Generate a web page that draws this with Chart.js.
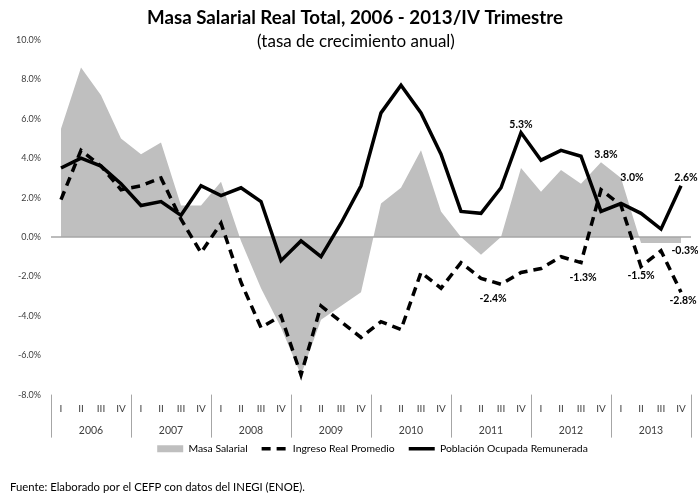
<!DOCTYPE html>
<html>
<head>
<meta charset="utf-8">
<script src="https://cdn.jsdelivr.net/npm/chart.js@4.4.0/dist/chart.umd.min.js"></script>
<style>
  html, body { margin: 0; padding: 0; background: #fff; }
</style>
</head>
<body>
<canvas id="chart" width="698" height="496"></canvas>
<script>
const quarters = ['I','II','III','IV','I','II','III','IV','I','II','III','IV','I','II','III','IV',
                  'I','II','III','IV','I','II','III','IV','I','II','III','IV','I','II','III','IV'];
const years = ['2006','2007','2008','2009','2010','2011','2012','2013'];

const masaSalarial = [5.5, 8.6, 7.2, 5.0, 4.2, 4.8, 1.6, 1.6, 2.8, -0.2, -2.6, -4.6, -7.0, -4.2, -3.5, -2.8,
                      1.7, 2.5, 4.4, 1.3, 0.0, -0.9, 0.0, 3.5, 2.3, 3.4, 2.7, 3.8, 3.0, -0.3, -0.3, -0.3];
const ingresoReal = [1.9, 4.4, 3.6, 2.4, 2.6, 3.0, 0.9, -0.8, 0.7, -2.3, -4.6, -4.0, -7.0, -3.5, -4.3, -5.1,
                     -4.3, -4.7, -1.8, -2.6, -1.3, -2.1, -2.4, -1.8, -1.6, -1.0, -1.3, 2.4, 1.6, -1.5, -0.7, -2.8];
const poblacionOcupada = [3.5, 4.0, 3.6, 2.7, 1.6, 1.8, 1.1, 2.6, 2.1, 2.5, 1.8, -1.2, -0.2, -1.0, 0.7, 2.6,
                          6.3, 7.7, 6.3, 4.2, 1.3, 1.2, 2.5, 5.3, 3.9, 4.4, 4.1, 1.3, 1.7, 1.2, 0.4, 2.6];

const yTicks = [-8, -6, -4, -2, 0, 2, 4, 6, 8, 10];

// which points carry a value label (dataset index, point index, offset)
const valueLabels = [
  [2, 23, 0, -8], [2, 31, 5, -8],
  [0, 27, 5, -8], [0, 28, 11, 0], [0, 31, 4, 8],
  [1, 22, -8, 14], [1, 26, 2, 15], [1, 29, 0, 9], [1, 31, 2, 8]
];

const titleText = 'Masa Salarial Real Total, 2006 - 2013/IV Trimestre';
const subtitleText = '(tasa de crecimiento anual)';
const sourceText = 'Fuente: Elaborado por el CEFP con datos del INEGI (ENOE).';

const FONT = 'Lato';
const pct = v => v.toFixed(1) + '%';

const extras = {
  id: 'extras',
  afterLayout(chart) {
    // nudge the legend up and right, like the original
    const lg = chart.legend;
    lg.top -= 8; lg.bottom -= 8;
    lg.left += 20; lg.right += 20;
  },
  afterDatasetDraw(chart, args) {
    if (args.index !== 0) return;
    const {ctx, chartArea} = chart;
    const y0 = chart.scales.y.getPixelForValue(0);
    ctx.save();
    ctx.strokeStyle = '#a6a6a6';
    ctx.lineWidth = 1.5;
    ctx.beginPath();
    ctx.moveTo(chartArea.left, y0);
    ctx.lineTo(chartArea.right, y0);
    ctx.stroke();
    ctx.restore();
  },
  afterDatasetsDraw(chart) {
    const {ctx} = chart;
    ctx.save();
    ctx.font = 'bold 10.5px ' + FONT;
    ctx.fillStyle = '#000';
    ctx.textAlign = 'center';
    ctx.textBaseline = 'middle';
    valueLabels.forEach(([ds, i, dx, dy]) => {
      const pt = chart.getDatasetMeta(ds).data[i];
      ctx.fillText(pct(chart.data.datasets[ds].data[i]), pt.x + dx, pt.y + dy);
    });
    ctx.restore();
  },
  afterDraw(chart) {
    const {ctx, chartArea} = chart;
    const xs = chart.scales.x;
    const half = (xs.getPixelForValue(1) - xs.getPixelForValue(0)) / 2;
    ctx.save();
    ctx.strokeStyle = '#a6a6a6';
    ctx.lineWidth = 1;
    for (let i = 0; i <= quarters.length; i += 4) {
      const px = i < quarters.length ? xs.getPixelForValue(i) - half : xs.getPixelForValue(i - 1) + half;
      ctx.beginPath();
      ctx.moveTo(Math.round(px) + 0.5, chartArea.bottom);
      ctx.lineTo(Math.round(px) + 0.5, chart.scales.x2.bottom);
      ctx.stroke();
    }
    ctx.fillStyle = '#000';
    ctx.textAlign = 'center';
    ctx.textBaseline = 'middle';
    ctx.font = 'bold 18.7px ' + FONT;
    ctx.fillText(titleText, 355, 18);
    ctx.font = '17px ' + FONT;
    ctx.fillText(subtitleText, 356, 42);
    ctx.textAlign = 'left';
    ctx.font = '11.3px ' + FONT;
    ctx.fillText(sourceText, 10, 487);
    ctx.restore();
  }
};

new Chart(document.getElementById('chart'), {
  type: 'line',
  data: {
    labels: quarters,
    datasets: [
      {
        label: 'Masa Salarial',
        data: masaSalarial,
        fill: 'origin',
        backgroundColor: '#bfbfbf',
        borderColor: '#bfbfbf',
        borderWidth: 0,
        pointRadius: 0,
        tension: 0,
        order: 3,
        legendStyle: 'rect'
      },
      {
        label: 'Ingreso Real Promedio',
        data: ingresoReal,
        fill: false,
        borderColor: '#000',
        backgroundColor: '#000',
        borderWidth: 3.5,
        borderDash: [9, 6],
        pointRadius: 0,
        tension: 0,
        order: 2,
        legendStyle: 'line'
      },
      {
        label: 'Población Ocupada Remunerada',
        data: poblacionOcupada,
        fill: false,
        borderColor: '#000',
        backgroundColor: '#000',
        borderWidth: 3.5,
        pointRadius: 0,
        tension: 0,
        order: 1,
        legendStyle: 'line'
      }
    ]
  },
  options: {
    responsive: false,
    animation: false,
    events: [],
    layout: { padding: { left: 14, right: 7, top: 40, bottom: 24 } },
    scales: {
      y: {
        min: -8,
        max: 10,
        afterBuildTicks: s => { s.ticks = yTicks.map(v => ({value: v})); },
        afterFit: s => { s.width = 37; },
        grid: { display: false, drawTicks: false },
        border: { display: false },
        ticks: {
          padding: 10,
          color: '#404040',
          font: { family: FONT, size: 9 },
          callback: v => pct(v)
        }
      },
      x: {
        offset: true,
        afterFit: s => { s.height = 22; },
        grid: { display: false, drawTicks: false },
        border: { display: false },
        ticks: {
          autoSkip: false,
          maxRotation: 0,
          padding: 8,
          color: '#404040',
          font: { family: FONT, size: 10 }
        }
      },
      x2: {
        type: 'category',
        position: 'bottom',
        labels: years,
        offset: true,
        afterFit: s => { s.height = 21; },
        grid: { display: false, drawTicks: false },
        border: { display: false },
        ticks: {
          autoSkip: false,
          maxRotation: 0,
          padding: 8,
          color: '#404040',
          font: { family: FONT, size: 10.5 }
        }
      }
    },
    plugins: {
      legend: {
        position: 'bottom',
        labels: {
          usePointStyle: true,
          pointStyleWidth: 26,
          boxHeight: 7,
          padding: 14,
          color: '#000',
          font: { family: FONT, size: 10.4 },
          sort: (a, b) => a.datasetIndex - b.datasetIndex,
          generateLabels: chart => chart.data.datasets.map((ds, i) => ({
            text: ds.label,
            datasetIndex: i,
            fillStyle: ds.backgroundColor,
            strokeStyle: ds.borderColor,
            lineWidth: ds.borderWidth,
            lineDash: ds.borderDash || [],
            pointStyle: ds.legendStyle,
            hidden: false
          }))
        }
      },
      tooltip: { enabled: false }
    }
  },
  plugins: [extras]
});
</script>
</body>
</html>
